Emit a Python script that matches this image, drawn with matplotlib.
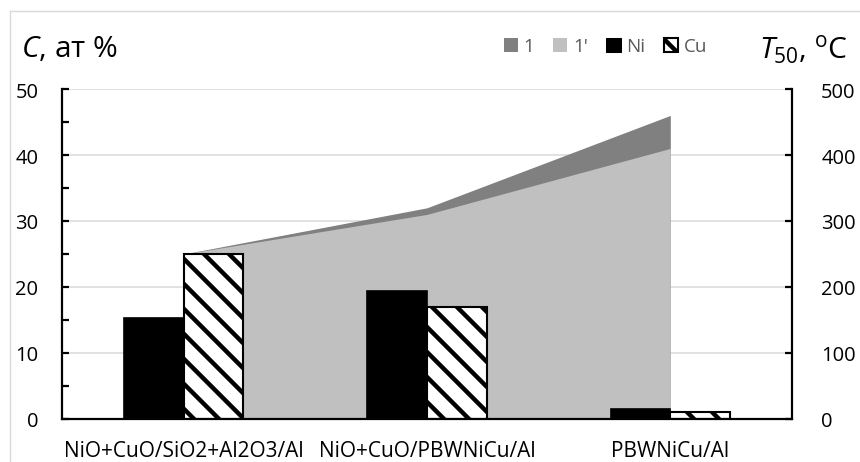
import numpy as np
import matplotlib
matplotlib.use("Agg")
import matplotlib.pyplot as plt
from matplotlib.patches import Patch
from matplotlib.lines import Line2D

# the figure is drawn at 75 dpi so the hatch spacing matches; sizes below
# are given as if at 100 dpi and scaled by S
DPI = 75
S = 100 / DPI

plt.rcParams['font.family'] = ['Open Sans', 'DejaVu Sans']
plt.rcParams['mathtext.fontset'] = 'custom'
plt.rcParams['mathtext.rm'] = 'Open Sans'
plt.rcParams['mathtext.it'] = 'Open Sans:italic'
plt.rcParams['hatch.linewidth'] = 3.2 * S

# data
categories = ["NiO+CuO/SiO2+Al2O3/Al", "NiO+CuO/PBWNiCu/Al", "PBWNiCu/Al"]
ni = [15.3, 19.4, 1.5]
cu = [25.0, 17.0, 1.0]
t50_1 = [250, 320, 460]
t50_1p = [250, 310, 410]

fig = plt.figure(figsize=(860 / DPI, 463 / DPI), dpi=DPI)
ax = fig.add_axes([0.0721, 0.0929, 0.8488, 0.7127])
ax2 = ax.twinx()
ax.set_zorder(ax2.get_zorder() + 1)
ax.patch.set_visible(False)

x = np.arange(len(categories))
w = 0.245

# areas on the secondary axis (behind the bars)
ax2.fill_between(x, 0, t50_1, color='#808080', linewidth=0)
ax2.fill_between(x, 0, t50_1p, color='#c0c0c0', linewidth=0)
ax2.set_ylim(0, 500)
ax2.set_yticks(np.arange(0, 501, 100))
ax2.set_axisbelow(True)
ax2.yaxis.grid(True, color='#d9d9d9', linewidth=1.1 * S)

# bars on the primary axis
ax.bar(x - w / 2, ni, w, color='black', edgecolor='black', linewidth=1.2 * S)
ax.bar(x + w / 2, cu, w, color='white', edgecolor='black', linewidth=1.5 * S, hatch='\\')
ax.set_ylim(0, 50)
ax.set_xlim(-0.5, 2.5)
ax.set_yticks(np.arange(0, 51, 10))
ax.set_yticks(np.arange(5, 50, 10), minor=True)
ax.set_xticks(x)
ax.set_xticklabels(categories)

for a in (ax, ax2):
    for s in a.spines.values():
        s.set_visible(False)
ax.spines['left'].set_visible(True)
ax.spines['bottom'].set_visible(True)
ax2.spines['right'].set_visible(True)
for s in (ax.spines['left'], ax.spines['bottom'], ax2.spines['right']):
    s.set_linewidth(1.6 * S)
    s.set_color('black')

ax.tick_params(axis='y', which='major', direction='in', length=5 * S, width=1.6 * S,
               pad=17 * S, labelsize=14.5 * S)
ax.tick_params(axis='y', which='minor', direction='in', length=5 * S, width=1.6 * S)
ax.tick_params(axis='x', length=0, pad=15 * S, labelsize=15 * S)
ax2.tick_params(axis='y', direction='in', length=5 * S, width=1.6 * S,
                pad=21 * S, labelsize=14.5 * S)

fig.text(0.024, 0.893, r"$\it{C}$, ат %", fontsize=21.5 * S, va='center', ha='left')
fig.text(0.882, 0.893, r"$\it{T}_{\rm 50}$, $^{\rm o}$C", fontsize=21.5 * S, va='center', ha='left')

handles = [
    Patch(facecolor='#808080', edgecolor='none', label='1'),
    Patch(facecolor='#c0c0c0', edgecolor='none', label="1'"),
    Patch(facecolor='black', edgecolor='black', label='Ni'),
    Patch(facecolor='white', edgecolor='black', linewidth=1.5 * S, hatch='\\', label='Cu'),
]
leg = fig.legend(handles=handles, loc='center', bbox_to_anchor=(0.704, 0.898), ncol=4,
                 frameon=False, fontsize=13.5 * S, handlelength=0.75, handleheight=0.75,
                 handletextpad=0.3, columnspacing=1.0, borderpad=0)
for t in leg.get_texts():
    t.set_color('#595959')

# thin chart border
fig.add_artist(Line2D([0.0116, 0.0116], [0.0, 0.974], color='#d9d9d9', linewidth=1 * S))
fig.add_artist(Line2D([0.0116, 1.0], [0.974, 0.974], color='#d9d9d9', linewidth=1 * S))

fig.savefig('out.png', dpi=DPI)
